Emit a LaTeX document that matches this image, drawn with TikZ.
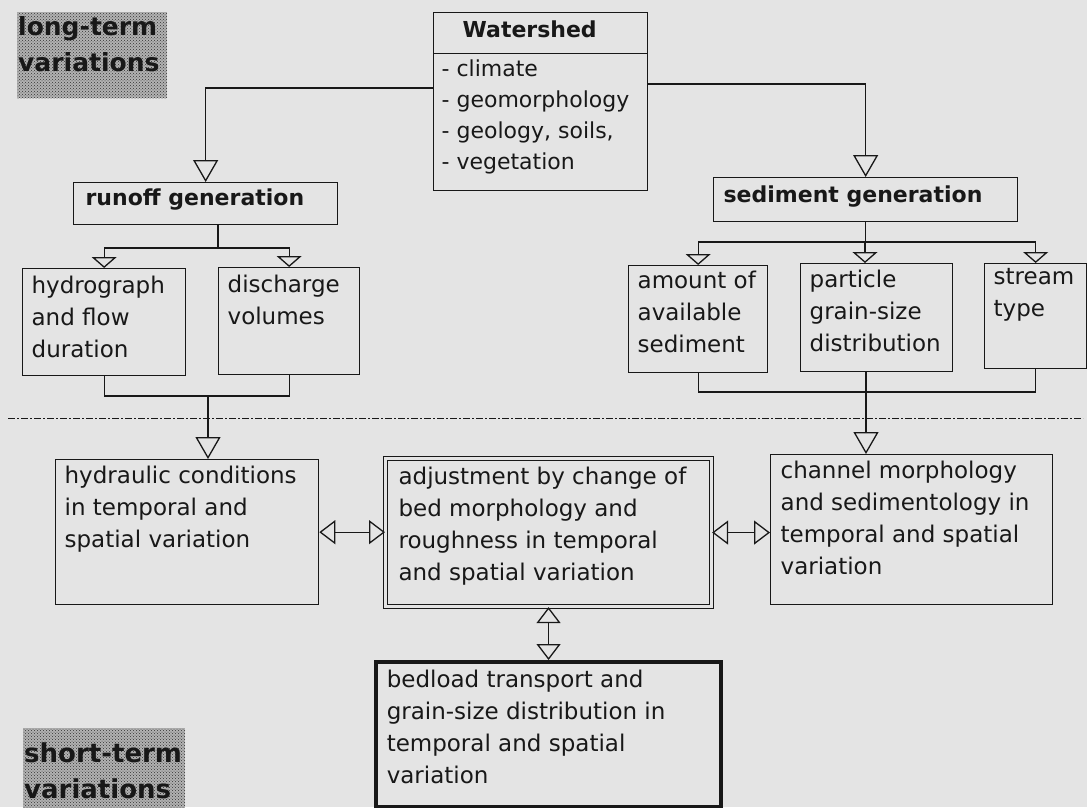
\documentclass[tikz,border=0pt]{standalone}
\usepackage{fontspec}
\setmainfont{DejaVu Sans}
\usetikzlibrary{arrows.meta,patterns}

\definecolor{paper}{RGB}{228,228,228}
\definecolor{ink}{RGB}{24,24,24}

% top-aligned text block of given width and height
\newcommand{\cell}[3]{\begin{minipage}[t][#2][t]{#1}\raggedright #3\end{minipage}}

\tikzset{
  box/.style={draw=ink, line width=1.3pt, anchor=north west, inner xsep=9pt, inner ysep=6pt},
  head/.style={box, font=\fontsize{22}{31}\selectfont\bfseries},
  patch/.style={anchor=north west, fill=gray!60, postaction={pattern=crosshatch dots, pattern color=black!80},
    inner xsep=1pt, font=\fontsize{25}{36}\selectfont\bfseries},
  link/.style={draw=ink, line width=1.3pt},
  bigarr/.style={link, -{Triangle[open, width=25pt, length=22pt]}},
  smallarr/.style={link, -{Triangle[open, width=25pt, length=11pt]}},
  dblarr/.style={link, {Triangle[open, width=24pt, length=16pt]}-{Triangle[open, width=24pt, length=16pt]}},
  divider/.style={draw=ink, line width=0.9pt, dash pattern=on 7pt off 2pt on 2pt off 2pt}
}

\begin{document}
\begin{tikzpicture}[x=1pt, y=-1pt, every node/.style={text=ink, font=\fontsize{23}{32}\selectfont}]

% Drawing background
\fill[paper] (0,0) rectangle (1087,807);
\useasboundingbox (0,0) rectangle (1087,807);

% Drawing side labels
\node[patch, inner ysep=4pt] (longterm) at (17,12) {\cell{148pt}{78pt}{long-term\\variations}};
\node[patch, inner ysep=15pt, font=\fontsize{26}{36}\selectfont\bfseries] (shortterm) at (23,728) {\cell{160pt}{60pt}{short-term\\variations}};

% Drawing watershed box
\node[head, inner ysep=8pt, inner xsep=8pt] (wsHead) at (433,12) {\cell{198pt}{25pt}{\hspace*{21pt}Watershed}};
\node[box, inner xsep=8pt, font=\fontsize{22}{31}\selectfont] (wsList) at (433,53) {\cell{198pt}{125pt}{- climate\\- geomorphology\\- geology, soils,\\- vegetation}};

% Drawing generation boxes
\node[head, inner xsep=12pt] (runoff) at (73,182) {\cell{240pt}{30pt}{runoff generation}};
\node[head, inner xsep=10pt, inner ysep=8pt] (sed) at (713,177) {\cell{284pt}{28pt}{sediment generation}};

% Drawing factor boxes
\node[box, inner ysep=7pt] (hydro) at (22,268) {\cell{145pt}{93pt}{hydrograph\\and flow\\duration}};
\node[box, inner ysep=7pt] (disch) at (218,267) {\cell{123pt}{93pt}{discharge\\volumes}};
\node[box, inner ysep=5pt] (amount) at (628,265) {\cell{121pt}{97pt}{amount of\\available\\sediment}};
\node[box] (part) at (800,263) {\cell{134pt}{96pt}{particle\\grain-size\\distribution}};
\node[box, inner ysep=5pt] (stream) at (984,263) {\cell{84pt}{95pt}{stream\\type}};

% Drawing short-term boxes
\node[box] (hydr) at (55,459) {\cell{245pt}{133pt}{hydraulic conditions\\in temporal and\\spatial variation}};
\node[box, line width=1.1pt, double=paper, double distance=2.5pt, inner xsep=13pt, inner ysep=8pt] (adj) at (385,458)
  {\cell{300pt}{132pt}{adjustment by change of\\bed morphology and\\roughness in temporal\\and spatial variation}};
\node[box, inner xsep=10pt] (chan) at (770,454) {\cell{262pt}{138pt}{channel morphology\\and sedimentology in\\temporal and spatial\\variation}};
\node[box, line width=3.5pt, inner xsep=11pt, inner ysep=8pt] (bed) at (374,660)
  {\cell{323pt}{129pt}{bedload transport and\\grain-size distribution in\\temporal and spatial\\variation}};

% Joints of the connectors
\coordinate (wsL) at (433,88);
\coordinate (wsR) at (647,84);
\coordinate (rJ) at (218,248);
\coordinate (rB) at (208,396);
\coordinate (sJ) at (865,242);
\coordinate (sB) at (866,392);

% Drawing divider
\draw[divider] (8,418) -- (1083,418);

% Drawing connectors
\draw[bigarr] (wsL) -| (runoff.north);
\draw[bigarr] (wsR) -| (sed.north);

\draw[link] (runoff.south -| rJ) -- (rJ);
\draw[smallarr] (rJ) -| (hydro.north);
\draw[smallarr] (rJ) -| (disch.north);

\draw[link] (sed.south) -- (sed.south |- sJ);
\draw[smallarr] (sJ) -| (amount.north);
\draw[smallarr] (sJ) -- (sJ |- part.north);
\draw[smallarr] (sJ) -| (stream.north);

\draw[link] (hydro.south) -- (hydro.south |- rB) -- (disch.south |- rB) -- (disch.south);
\draw[bigarr] (rB) -- (rB |- hydr.north);

\draw[link] (amount.south) -- (amount.south |- sB) -- (stream.south |- sB) -- (stream.south);
\draw[bigarr] (part.south -| sB) -- (sB |- chan.north);

\draw[dblarr] (hydr.east) -- (hydr.east -| adj.west);
\draw[dblarr] (adj.east) -- (adj.east -| chan.west);
\draw[dblarr] (adj.south) -- (adj.south |- bed.north);

\end{tikzpicture}
\end{document}
